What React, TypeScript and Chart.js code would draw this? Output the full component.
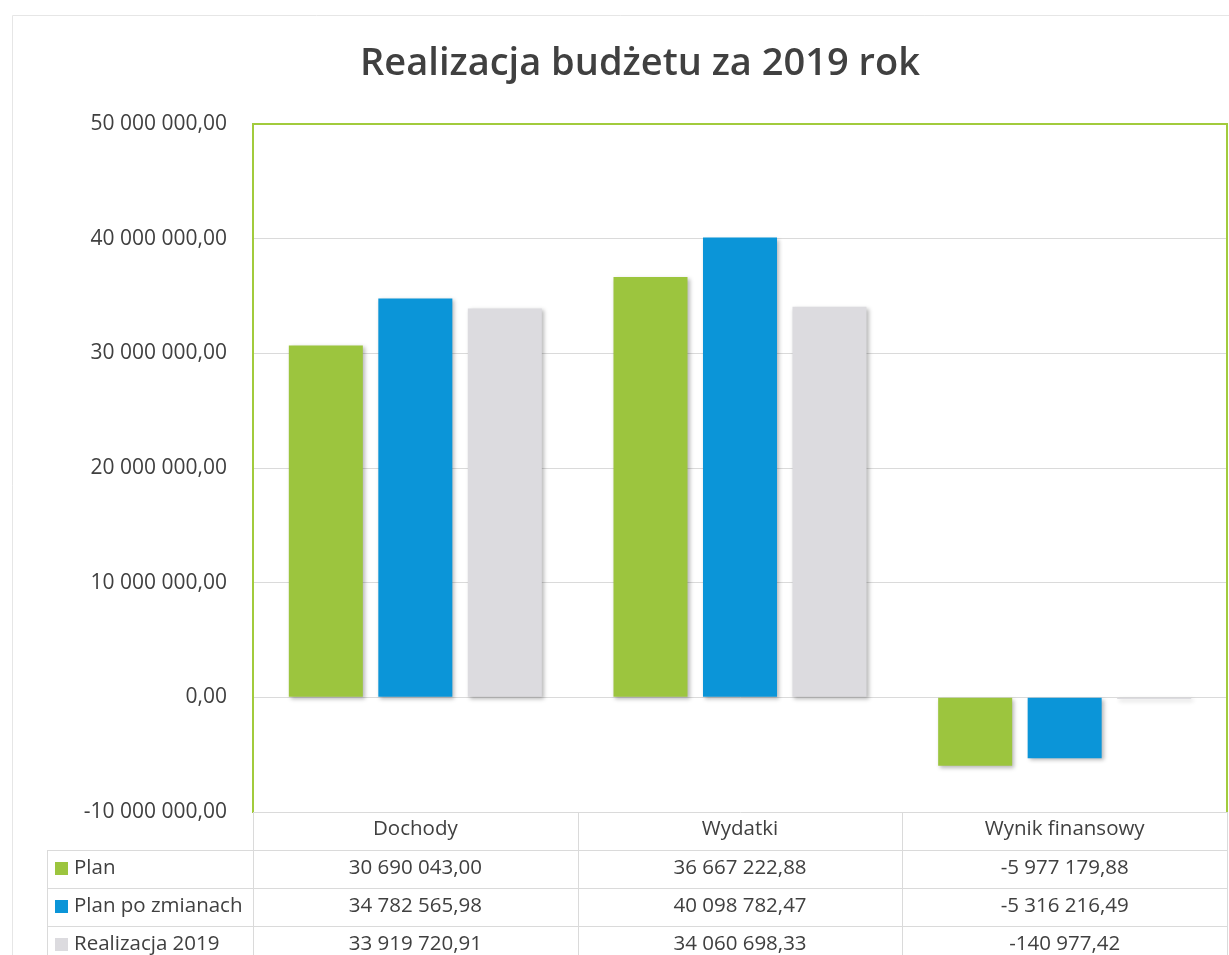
import React, { useEffect, useRef } from 'react';
import { Chart, registerables } from 'chart.js';

Chart.register(...registerables);

const title = 'Realizacja budżetu za 2019 rok';
const categories = ['Dochody', 'Wydatki', 'Wynik finansowy'];
const seriesNames = ['Plan', 'Plan po zmianach', 'Realizacja 2019'];
const plan = [30690043.0, 36667222.88, -5977179.88];
const planPoZmianach = [34782565.98, 40098782.47, -5316216.49];
const realizacja2019 = [33919720.91, 34060698.33, -140977.42];
const seriesColors = ['#9CC53E', '#0B95D8', '#DCDBDF'];
const yMin = -10000000;
const yMax = 50000000;
const yStep = 10000000;

const FONT = "'Open Sans', 'DejaVu Sans', sans-serif";
const TEXT = '#404040';
const FRAME_GREEN = '#A2CB3C';
const GRID = '#DADADA';

function fmt(v: number): string {
  const neg = v < 0;
  const abs = Math.abs(v);
  const fixed = abs.toFixed(2);
  const [intPart, dec] = fixed.split('.');
  const withSpaces = intPart.replace(/\B(?=(\d{3})+(?!\d))/g, ' ');
  return (neg ? '-' : '') + withSpaces + ',' + dec;
}

const seriesValues = [plan, planPoZmianach, realizacja2019];

export default function App() {
  const ref = useRef<HTMLCanvasElement | null>(null);

  useEffect(() => {
    document.body.style.margin = '0';
    const canvas = ref.current;
    if (!canvas) return;

    const decorPlugin = {
      id: 'decor',
      beforeDraw(chart: any) {
        const ctx = chart.ctx;
        ctx.save();
        ctx.fillStyle = '#ffffff';
        ctx.fillRect(0, 0, chart.width, chart.height);
        // outer chart frame
        ctx.strokeStyle = '#E6E6E6';
        ctx.lineWidth = 1;
        ctx.beginPath();
        ctx.moveTo(12.5, chart.height);
        ctx.lineTo(12.5, 15.5);
        ctx.lineTo(chart.width, 15.5);
        ctx.stroke();
        // title
        ctx.fillStyle = TEXT;
        ctx.font = `600 38px ${FONT}`;
        ctx.textAlign = 'center';
        ctx.textBaseline = 'middle';
        ctx.fillText(title, 640, 64);
        ctx.restore();
      },
      beforeDatasetsDraw(chart: any) {
        const ctx = chart.ctx;
        ctx.save();
        ctx.shadowColor = 'rgba(0,0,0,0.28)';
        ctx.shadowBlur = 4;
        ctx.shadowOffsetX = 2;
        ctx.shadowOffsetY = 2;
      },
      afterDatasetsDraw(chart: any) {
        chart.ctx.restore();
      },
      afterDraw(chart: any) {
        const ctx = chart.ctx;
        const area = chart.chartArea;
        ctx.save();
        // plot frame (top and right)
        ctx.strokeStyle = FRAME_GREEN;
        ctx.lineWidth = 2;
        ctx.beginPath();
        ctx.moveTo(area.left, area.top);
        ctx.lineTo(area.right, area.top);
        ctx.lineTo(area.right, area.bottom);
        ctx.stroke();

        // data table
        const colW = (area.right - area.left) / categories.length;
        const rowH = 38;
        const top = area.bottom;
        const legendLeft = 47;
        ctx.strokeStyle = GRID;
        ctx.lineWidth = 1;
        ctx.beginPath();
        for (let r = 1; r <= seriesNames.length; r++) {
          const y = Math.round(top + r * rowH) + 0.5;
          ctx.moveTo(legendLeft, y);
          ctx.lineTo(area.right, y);
        }
        for (let c = 0; c <= categories.length; c++) {
          const x = Math.round(area.left + c * colW) + 0.5;
          ctx.moveTo(x, top);
          ctx.lineTo(x, chart.height);
        }
        ctx.moveTo(legendLeft + 0.5, top + rowH);
        ctx.lineTo(legendLeft + 0.5, chart.height);
        ctx.stroke();

        ctx.fillStyle = TEXT;
        ctx.font = `20.5px ${FONT}`;
        ctx.textBaseline = 'middle';
        ctx.textAlign = 'center';
        const xs = chart.scales.x;
        categories.forEach((cat, i) => {
          const cx = xs.getPixelForValue(i);
          ctx.fillText(cat, cx, top + rowH / 2 - 2);
        });
        seriesNames.forEach((name, r) => {
          const cy = top + rowH * (r + 1) + rowH / 2 - 1;
          ctx.fillStyle = seriesColors[r];
          ctx.fillRect(55, cy - 6, 13, 13);
          ctx.fillStyle = TEXT;
          ctx.textAlign = 'left';
          ctx.fillText(name, 74, cy);
          ctx.textAlign = 'center';
          seriesValues[r].forEach((v, i) => {
            ctx.fillText(fmt(v), xs.getPixelForValue(i), cy);
          });
        });
        ctx.restore();
      },
    };

    const chart = new Chart(canvas, {
      type: 'bar',
      data: {
        labels: categories,
        datasets: seriesNames.map((name, i) => ({
          label: name,
          data: seriesValues[i],
          backgroundColor: seriesColors[i],
          borderWidth: 0,
          categoryPercentage: 0.827,
          barPercentage: 0.827,
        })),
      },
      options: {
        responsive: false,
        animation: false,
        devicePixelRatio: 1,
        layout: { padding: { top: 124, bottom: 143, left: 0, right: 2 } },
        plugins: {
          legend: { display: false },
          tooltip: { enabled: false },
          title: { display: false },
        },
        scales: {
          x: { display: false },
          y: {
            min: yMin,
            max: yMax,
            ticks: {
              stepSize: yStep,
              padding: 26,
              color: TEXT,
              font: { family: FONT, size: 21 },
              callback: (v: any) => fmt(Number(v)),
            },
            grid: {
              drawTicks: false,
              color: (c: any) => (c.tick && c.tick.value === yMax ? FRAME_GREEN : GRID),
              lineWidth: 1,
            },
            border: { display: true, color: FRAME_GREEN, width: 2 },
            afterFit: (scale: any) => {
              scale.width = 253;
            },
          },
        },
      },
      plugins: [decorPlugin],
    });
    return () => chart.destroy();
  }, []);

  return <canvas ref={ref} width={1229} height={955} style={{ display: 'block' }} />;
}
